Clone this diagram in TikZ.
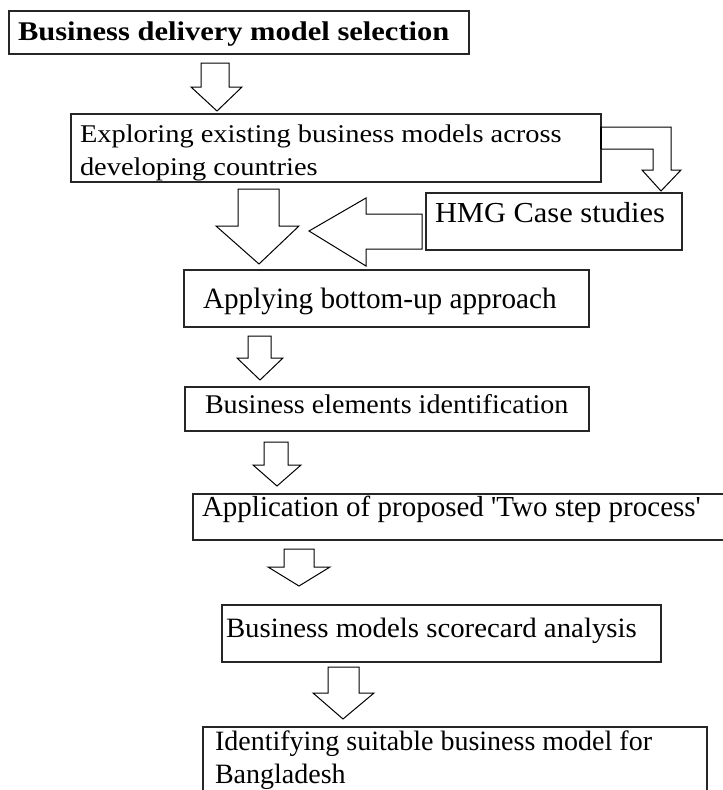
\documentclass[tikz,border=0pt]{standalone}
\usepackage{graphicx}
\usepackage{fontspec}
\setmainfont{Liberation Serif}
\newcommand{\hsx}[2]{\scalebox{#1}[1]{#2}}
\begin{document}
\begin{tikzpicture}[x=1pt,y=-1pt,
  box/.style={draw=black!85, line width=1.4pt, anchor=north west, inner sep=0pt, outer sep=0pt},
  blk/.style={draw=black, line width=1pt, fill=white, line join=miter},
  txt/.style={anchor=base west, inner sep=0pt, outer sep=0pt, text=black}]
\useasboundingbox (0,0) rectangle (723,790);
\fill[white] (0,0) rectangle (723,790);

% boxes
\node[box, minimum width=460pt, minimum height=43pt] (b1) at (9,11) {};
\node[box, minimum width=530pt, minimum height=68pt] (b2) at (71,114) {};
\node[box, minimum width=256pt, minimum height=57pt] (hmg) at (426,193) {};
\node[box, minimum width=405pt, minimum height=57pt] (b3) at (184,270) {};
\node[box, minimum width=404pt, minimum height=44pt] (b4) at (185,387) {};
\node[box, minimum width=533pt, minimum height=46pt] (b5) at (193,494) {};
\node[box, minimum width=439pt, minimum height=57pt] (b6) at (222,605) {};
\node[box, minimum width=504pt, minimum height=72pt] (b7) at (203,727) {};

% texts
\node[txt, font=\fontsize{27}{30}\selectfont\bfseries] (t1) at (18,40.5) {\hsx{1.13}{Business delivery model selection}};
\node[txt, font=\fontsize{25.5}{28}\selectfont] (t2a) at (80,142) {\hsx{1.115}{Exploring existing business models across}};
\node[txt, font=\fontsize{25.5}{28}\selectfont] (t2b) at (80,175.5) {\hsx{1.115}{developing countries}};
\node[txt, font=\fontsize{29}{32}\selectfont] (th) at (435,222.5) {\hsx{1.05}{HMG Case studies}};
\node[txt, font=\fontsize{29.5}{32}\selectfont] (t3) at (203,308) {\hsx{0.99}{Applying bottom-up approach}};
\node[txt, font=\fontsize{27}{30}\selectfont] (t4) at (205,413) {\hsx{1.04}{Business elements identification}};
\node[txt, font=\fontsize{29}{32}\selectfont] (t5) at (202,516.5) {\hsx{1.0}{Application of proposed \textquotesingle Two step process\textquotesingle}};
\node[txt, font=\fontsize{28}{31}\selectfont] (t6) at (226,637) {\hsx{1.03}{Business models scorecard analysis}};
\node[txt, font=\fontsize{28}{31}\selectfont] (t7a) at (215,750) {\hsx{1.0}{Identifying suitable business model for}};
\node[txt, font=\fontsize{28}{31}\selectfont] (t7b) at (215,783) {\hsx{1.0}{Bangladesh}};

% block arrows
\draw[blk] (201,63) -- (229,63) -- (229,87) -- (242,87) -- (217,111) -- (191,87) -- (201,87) -- cycle;
\draw[blk] (238,189) -- (279,189) -- (279,226) -- (299,226) -- (259,264) -- (216,226) -- (238,226) -- cycle;
\draw[blk] (422,214) -- (366,214) -- (366,198) -- (309,231) -- (366,266) -- (366,249) -- (422,249) -- cycle;
\draw[blk] (248,336) -- (271,336) -- (271,358) -- (283,358) -- (260,380) -- (237,358) -- (248,358) -- cycle;
\draw[blk] (264,442) -- (288,442) -- (288,465) -- (301,465) -- (277,486) -- (253,465) -- (264,465) -- cycle;
\draw[blk] (284,549) -- (314,549) -- (314,567) -- (330,567) -- (299,586) -- (268,567) -- (284,567) -- cycle;
\draw[blk] (328,667) -- (359,667) -- (359,693) -- (374,693) -- (343,719) -- (313,693) -- (328,693) -- cycle;
% bent arrow from exploring box to HMG
\draw[blk] (601,127) -- (671,127) -- (671,170) -- (681,170) -- (661,191) -- (642,170) -- (653,170) -- (653,149) -- (601,149) -- cycle;
\draw[line width=2.2pt] (601,127) -- (601,149);
\end{tikzpicture}
\end{document}
